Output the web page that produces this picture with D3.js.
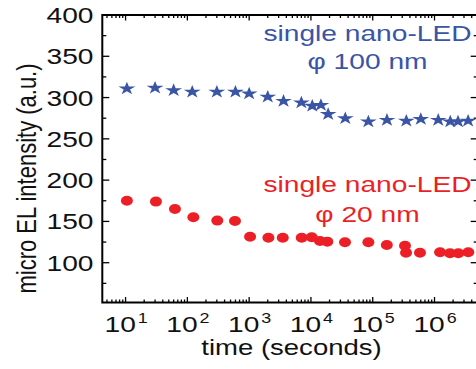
<!DOCTYPE html>
<html><head><meta charset="utf-8">
<script src="https://cdn.jsdelivr.net/npm/d3@7"></script>
<style>html,body{margin:0;padding:0;background:#fff;overflow:hidden}</style>
</head><body>
<script>
// ---- data ----
const starTime = [10.5, 30, 60, 120, 300, 600, 1000, 2000, 3600, 7000, 10500, 14500, 19000, 36000, 85000, 170000, 350000, 600000, 1150000, 1800000, 2400000, 3500000];
const starEL   = [312, 313, 310, 308, 308, 308, 306, 302, 297, 295, 291, 292, 281, 276, 272, 274, 273, 275, 274, 272, 272, 273];
const dotTime  = [10.5, 31, 63, 125, 305, 590, 1035, 2050, 3500, 7100, 10300, 14000, 18400, 35600, 85000, 169000, 333000, 346000, 582000, 1230000, 1780000, 2430000, 3520000];
const dotEL    = [175, 174, 165, 155, 151, 150.5, 131.5, 130.3, 130.3, 130.3, 130.8, 126.3, 125.5, 124.7, 124.7, 121.5, 120.6, 112.1, 112.1, 112.6, 111.4, 111.4, 112.6];
const yTicks = [100, 150, 200, 250, 300, 350, 400];
const yMinor = [75, 125, 175, 225, 275, 325, 375];
const xDecades = [1, 2, 3, 4, 5, 6];
const labelsBlue = ["single nano-LED", "\u03c6 100 nm"];
const labelsRed  = ["single nano-LED", "\u03c6 20 nm"];
const xTitle = "time (seconds)";
const yTitle = "micro EL intensity (a.u.)";

const W = 476, H = 369;
const SX = 1.28; // horizontal stretch of the original picture
const BLUE = "#3a54a6", RED = "#ec1f27";
const FONT = "Liberation Sans, Arial, sans-serif";
const L = 102.3, R = 477.7, T = 15, B = 302.5;

const svg = d3.select("body").append("svg").attr("width", W).attr("height", H);
const x = d3.scaleLog().domain([4.2, 5e6]).range([L, R]);
const y = d3.scaleLinear().domain([51.8, 400]).range([B, T]);

// ticks
const g = svg.append("g").attr("stroke", "#000").attr("stroke-width", 1.3);
const majorX = xDecades.map(d => Math.pow(10, d));
const minorX = [];
for (let e = 0; e <= 6; e++) for (let m = 2; m <= 9; m++) {
  const v = m * Math.pow(10, e);
  if (v > x.domain()[0] && v < x.domain()[1]) minorX.push(v);
}
function vt(vals, len) {
  vals.forEach(v => {
    const px = x(v);
    g.append("line").attr("x1", px).attr("x2", px).attr("y1", B).attr("y2", B - len);
    g.append("line").attr("x1", px).attr("x2", px).attr("y1", T).attr("y2", T + len);
  });
}
vt(majorX, 5.5); vt(minorX, 3);
function ht(vals, len) {
  vals.forEach(v => {
    const py = y(v);
    g.append("line").attr("y1", py).attr("y2", py).attr("x1", L).attr("x2", L + len);
    g.append("line").attr("y1", py).attr("y2", py).attr("x1", R).attr("x2", R - len);
  });
}
ht(yTicks, 7); ht(yMinor, 4);

// frame
svg.append("rect").attr("x", L).attr("y", T).attr("width", R - L).attr("height", B - T)
  .attr("fill", "none").attr("stroke", "#000").attr("stroke-width", 2);

// y tick labels
yTicks.forEach(v => {
  svg.append("text").attr("transform", `translate(93.5,${y(v) + 8}) scale(${SX},1)`)
    .attr("text-anchor", "end").attr("font-family", FONT).attr("font-size", 22).attr("fill", "#111")
    .text(v);
});
// x tick labels
majorX.forEach((v, i) => {
  const t = svg.append("text").attr("transform", `translate(${x(v) + 0.5},331.5) scale(${SX},1)`)
    .attr("text-anchor", "middle").attr("font-family", FONT).attr("font-size", 22).attr("fill", "#111");
  t.append("tspan").text("10");
  t.append("tspan").attr("dy", -9).attr("font-size", 14).attr("dx", 1.5).text(xDecades[i]);
});
// axis titles
svg.append("text").attr("transform", `translate(291.5,355) scale(${SX},1)`)
  .attr("text-anchor", "middle").attr("font-family", FONT).attr("font-size", 21.5).attr("fill", "#111").text(xTitle);
svg.append("text").attr("transform", `translate(35.5,178.5) scale(${SX},1) rotate(-90)`)
  .attr("text-anchor", "middle").attr("font-family", FONT).attr("font-size", 22).attr("fill", "#111").text(yTitle);

// annotations
function ann(lines, color, y0, y1) {
  [y0, y1].forEach((yy, i) => {
    svg.append("text").attr("transform", `translate(367.5,${yy}) scale(${SX},1)`)
      .attr("text-anchor", "middle").attr("font-family", FONT).attr("font-size", 22).attr("fill", color)
      .text(lines[i]);
  });
}
ann(labelsBlue, BLUE, 40.7, 68.5);
ann(labelsRed, RED, 192.3, 221.7);

// data marks
const star = d3.symbol().type(d3.symbolStar).size(54);
svg.append("g").selectAll("path").data(starTime.map((t, i) => [t, starEL[i]])).join("path")
  .attr("d", star).attr("fill", BLUE)
  .attr("transform", d => `translate(${x(d[0])},${y(d[1]) + 1}) scale(${SX},1)`);
svg.append("g").selectAll("ellipse").data(dotTime.map((t, i) => [t, dotEL[i]])).join("ellipse")
  .attr("cx", d => x(d[0])).attr("cy", d => y(d[1])).attr("rx", 6).attr("ry", 5).attr("fill", RED);
</script>
</body></html>
